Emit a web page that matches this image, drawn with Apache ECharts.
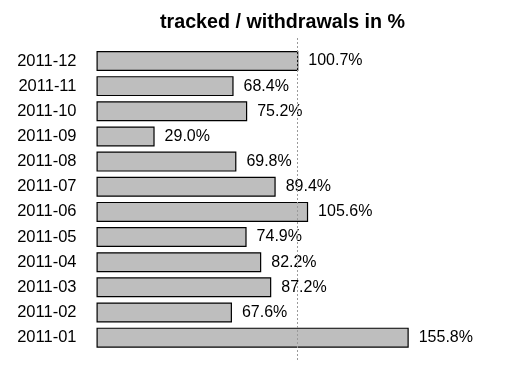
<!DOCTYPE html>
<html>
<head>
<meta charset="utf-8">
<script src="https://cdn.jsdelivr.net/npm/echarts@6/dist/echarts.min.js"></script>
<style>html,body{margin:0;padding:0;background:#fff;}#c{width:509px;height:380px;}</style>
</head>
<body>
<div id="c"></div>
<script>
const titleText = 'tracked / withdrawals in %';
const categories = ['2011-01','2011-02','2011-03','2011-04','2011-05','2011-06','2011-07','2011-08','2011-09','2011-10','2011-11','2011-12'];
const values = [155.8, 67.6, 87.2, 82.2, 74.9, 105.6, 89.4, 69.8, 29.0, 75.2, 68.4, 100.7];
const referenceValue = 100;

const chart = echarts.init(document.getElementById('c'), null, {renderer: 'canvas'});
const fontFam = '"Liberation Sans", Arial, sans-serif';
chart.setOption({
  animation: false,
  backgroundColor: '#ffffff',
  title: {
    text: titleText,
    left: 277.5,
    top: 8,
    textAlign: 'center',
    textStyle: {fontFamily: fontFam, fontSize: 19.7, fontWeight: 'bold', color: '#000'}
  },
  grid: {left: 96.5, width: 400.8, top: 48.4, height: 301.8},
  xAxis: {
    type: 'value', min: 0, max: 200, show: false
  },
  yAxis: {
    type: 'category',
    data: categories,
    axisLine: {show: false},
    axisTick: {show: false},
    splitLine: {show: false},
    axisLabel: {margin: 20, fontFamily: fontFam, fontSize: 16.5, color: '#000'}
  },
  series: [{
    type: 'bar',
    data: values,
    barWidth: 20,
    itemStyle: {color: '#bebebe', borderColor: '#000', borderWidth: 1.2},
    label: {
      show: true, position: 'right', distance: 10,
      fontFamily: fontFam, fontSize: 16, color: '#000',
      formatter: p => p.value.toFixed(1) + '%'
    },
    markLine: {
      silent: true,
      symbol: 'none',
      label: {show: false},
      lineStyle: {type: [2, 2], color: '#9a9a9a', width: 1},
      data: [[{xAxis: referenceValue, y: 38}, {xAxis: referenceValue, y: 361}]]
    }
  }]
});
</script>
</body>
</html>
